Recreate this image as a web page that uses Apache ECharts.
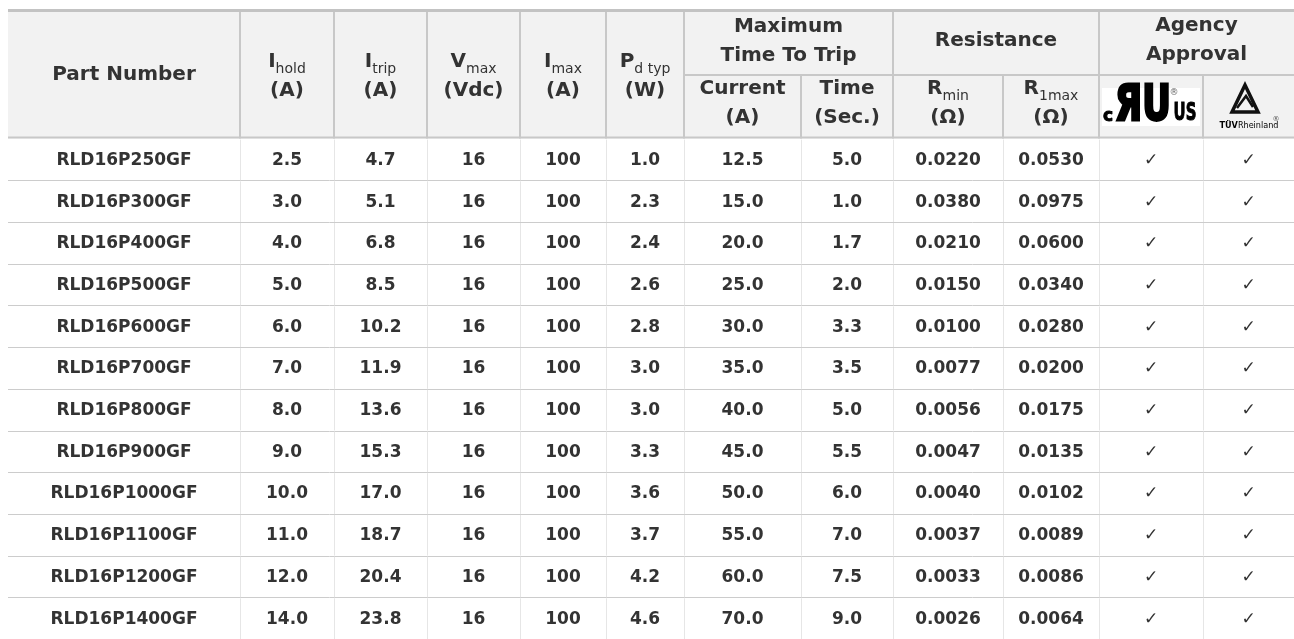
<!DOCTYPE html>
<html>
<head>
<meta charset="utf-8">
<script src="https://cdn.jsdelivr.net/npm/echarts@6/dist/echarts.min.js"></script>
<style>
html,body{margin:0;padding:0;background:#fff;}
#chart{width:1294px;height:639px;}
</style>
</head>
<body>
<div id="chart"></div>
<script>
// ---------- data ----------
const partNumbers = ['RLD16P250GF','RLD16P300GF','RLD16P400GF','RLD16P500GF','RLD16P600GF','RLD16P700GF',
  'RLD16P800GF','RLD16P900GF','RLD16P1000GF','RLD16P1100GF','RLD16P1200GF','RLD16P1400GF'];
const iHold       = [2.5, 3.0, 4.0, 5.0, 6.0, 7.0, 8.0, 9.0, 10.0, 11.0, 12.0, 14.0];
const iTrip       = [4.7, 5.1, 6.8, 8.5, 10.2, 11.9, 13.6, 15.3, 17.0, 18.7, 20.4, 23.8];
const vMax        = [16, 16, 16, 16, 16, 16, 16, 16, 16, 16, 16, 16];
const iMax        = [100, 100, 100, 100, 100, 100, 100, 100, 100, 100, 100, 100];
const pdTyp       = [1.0, 2.3, 2.4, 2.6, 2.8, 3.0, 3.0, 3.3, 3.6, 3.7, 4.2, 4.6];
const tripCurrent = [12.5, 15.0, 20.0, 25.0, 30.0, 35.0, 40.0, 45.0, 50.0, 55.0, 60.0, 70.0];
const tripTime    = [5.0, 1.0, 1.7, 2.0, 3.3, 3.5, 5.0, 5.5, 6.0, 7.0, 7.5, 9.0];
const rMin        = [0.0220, 0.0380, 0.0210, 0.0150, 0.0100, 0.0077, 0.0056, 0.0047, 0.0040, 0.0037, 0.0033, 0.0026];
const r1Max       = [0.0530, 0.0975, 0.0600, 0.0340, 0.0280, 0.0200, 0.0175, 0.0135, 0.0102, 0.0089, 0.0086, 0.0064];
const ulApproved  = [true, true, true, true, true, true, true, true, true, true, true, true];
const tuvApproved = [true, true, true, true, true, true, true, true, true, true, true, true];

const headerTexts = [
  '{b|Part Number}',
  '{b|I}{s|hold}\n{b|(A)}',
  '{b|I}{s|trip}\n{b|(A)}',
  '{b|V}{s|max}\n{b|(Vdc)}',
  '{b|I}{s|max}\n{b|(A)}',
  '{b|P}{s|d typ}\n{b|(W)}',
  '{b|Maximum}\n{b|Time To Trip}',
  '{b|Current}\n{b|(A)}',
  '{b|Time}\n{b|(Sec.)}',
  '{b|Resistance}',
  '{b|R}{s|min}\n{b|(Ω)}',
  '{b|R}{s|1max}\n{b|(Ω)}',
  '{b|Agency}\n{b|Approval}',
  '',
  ''
];

// ---------- layout / style ----------
const columns = [partNumbers, iHold, iTrip, vMax, iMax, pdTyp, tripCurrent, tripTime, rMin, r1Max, ulApproved, tuvApproved];
const formats = ['s', 1, 1, 0, 0, 1, 1, 1, 4, 4, 'check', 'check'];
const colEdges = [8, 240, 334, 427, 520, 606, 684, 801, 893, 1003, 1099, 1203, 1294];
const W = 1294, H = 639;
const HDR_TOP = 12, HDR_MID = 75, HDR_BOT = 138.6, ROW_H = 42.14;
const TXT = '#333333';
const FONT = 'DejaVu Sans';
// header cell layout: [colStart, colEnd, y0, y1, textCenterY]
const headerLayout = [
  [0,1,HDR_TOP,HDR_BOT,75],[1,2,HDR_TOP,HDR_BOT,76],[2,3,HDR_TOP,HDR_BOT,76],[3,4,HDR_TOP,HDR_BOT,76],
  [4,5,HDR_TOP,HDR_BOT,76],[5,6,HDR_TOP,HDR_BOT,76],[6,8,HDR_TOP,HDR_MID,41],[6,7,HDR_MID,HDR_BOT,103],
  [7,8,HDR_MID,HDR_BOT,103],[8,10,HDR_TOP,HDR_MID,41],[8,9,HDR_MID,HDR_BOT,103],[9,10,HDR_MID,HDR_BOT,103],
  [10,12,HDR_TOP,HDR_MID,40],[10,11,HDR_MID,HDR_BOT,103],[11,12,HDR_MID,HDR_BOT,103]
];

const rich = {
  b: {fontSize: 20, fontWeight: 'bold', fontFamily: FONT, color: TXT, lineHeight: 29, verticalAlign: 'middle'},
  s: {fontSize: 14, fontWeight: 'normal', fontFamily: FONT, color: TXT, lineHeight: 28, verticalAlign: 'bottom'}
};

function fmt(v, f) {
  if (f === 's') return v;
  if (f === 'check') return v ? '✓' : '';
  return Number(v).toFixed(f);
}

// ---------- header graphics ----------
const graphics = [];
graphics.push({type: 'rect', shape: {x: colEdges[0], y: HDR_TOP, width: W - colEdges[0], height: HDR_BOT - HDR_TOP}, style: {fill: '#f2f2f2'}, z: 1});
headerLayout.forEach((L, i) => {
  const x0 = colEdges[L[0]], x1 = colEdges[L[1]];
  if (x1 < W) {
    graphics.push({type: 'line', shape: {x1: x1, y1: L[2], x2: x1, y2: L[3]}, style: {stroke: '#c8c8c8', lineWidth: 2}, z: 3});
  }
  if (L[2] === HDR_MID) {
    graphics.push({type: 'line', shape: {x1: x0, y1: HDR_MID, x2: x1, y2: HDR_MID}, style: {stroke: '#c8c8c8', lineWidth: 2}, z: 3});
  }
  if (headerTexts[i]) {
    graphics.push({type: 'text', x: (x0 + x1) / 2, y: L[4], z: 4,
      style: {text: headerTexts[i], rich: rich, align: 'center', verticalAlign: 'middle', fill: TXT}});
  }
});
graphics.push({type: 'line', shape: {x1: colEdges[0], y1: 10.5, x2: W, y2: 10.5}, style: {stroke: '#c3c3c3', lineWidth: 3}, z: 3});
graphics.push({type: 'line', shape: {x1: colEdges[0], y1: 137.5, x2: W, y2: 137.5}, style: {stroke: '#c8c8c8', lineWidth: 2}, z: 3});

// UL logo
graphics.push(
  {type: 'rect', z: 6, shape: {x: 1102, y: 88, width: 98, height: 38}, style: {fill: '#ffffff'}},
  {type: 'text', z: 7, x: 1108, y: 117, style: {text: 'c', font: 'bold 17px "DejaVu Sans"', fill: '#000', stroke: '#000', lineWidth: 1, align: 'center', verticalAlign: 'middle'}},
  {type: 'text', z: 7, x: 1143, y: 107, scaleX: 0.72, style: {text: 'ЯU', font: '900 49px "DejaVu Sans"', fill: '#000', stroke: '#000', lineWidth: 3, align: 'center', verticalAlign: 'middle'}},
  {type: 'text', z: 7, x: 1174, y: 93, style: {text: '®', font: '9px "DejaVu Sans"', fill: '#666', align: 'center', verticalAlign: 'middle'}},
  {type: 'text', z: 7, x: 1185, y: 114, scaleX: 0.62, style: {text: 'US', font: 'bold 24px "DejaVu Sans"', fill: '#000', stroke: '#000', lineWidth: 1, align: 'center', verticalAlign: 'middle'}},
  // TUV logo
  {type: 'polygon', z: 7, shape: {points: [[1245, 85], [1232, 112], [1258, 112]]}, style: {fill: 'none', stroke: '#111', lineWidth: 3.5, lineJoin: 'miter'}},
  {type: 'polyline', z: 7, shape: {points: [[1237, 108], [1246, 96], [1253, 107]]}, style: {fill: 'none', stroke: '#111', lineWidth: 2.5}},
  {type: 'text', z: 7, x: 1249, y: 126, style: {text: '{a|TÜV}{b|Rheinland}', rich: {a: {font: 'bold 9px "DejaVu Sans Condensed", "DejaVu Sans"', color: '#222'}, b: {font: '9px "DejaVu Sans Condensed", "DejaVu Sans"', color: '#222'}}, align: 'center', verticalAlign: 'middle'}},
  {type: 'text', z: 7, x: 1276, y: 119, style: {text: '®', font: '7px "DejaVu Sans"', fill: '#555', align: 'center', verticalAlign: 'middle'}}
);

// ---------- chart ----------
const chart = echarts.init(document.getElementById('chart'), null, {renderer: 'canvas'});
chart.setOption({
  animation: false,
  backgroundColor: '#ffffff',
  grid: [{left: 0, top: HDR_BOT, width: W, height: ROW_H * partNumbers.length, containLabel: false}],
  xAxis: [{type: 'value', min: 0, max: W, show: false}],
  yAxis: [{type: 'category', data: partNumbers, inverse: true, show: false}],
  graphic: graphics,
  series: [{
    type: 'custom',
    coordinateSystem: 'cartesian2d',
    clip: false,
    encode: {x: 0, y: 1},
    data: partNumbers.map(p => [0, p]),
    renderItem: function (params, api) {
      const idx = params.dataIndex;
      const band = api.size([0, 1])[1];
      const cy = api.coord([0, idx])[1];
      const top = cy - band / 2, bottom = cy + band / 2;
      const X = v => api.coord([v, idx])[0];
      const children = [];
      const yb = Math.round(bottom) + 0.5;
      children.push({type: 'line', shape: {x1: X(colEdges[0]), y1: yb, x2: X(W), y2: yb}, style: {stroke: '#cccccc', lineWidth: 1}});
      for (let k = 1; k < colEdges.length - 1; k++) {
        const xv = Math.round(X(colEdges[k])) + 0.5;
        children.push({type: 'line', shape: {x1: xv, y1: top + 1, x2: xv, y2: bottom}, style: {stroke: '#e6e6e6', lineWidth: 1}});
      }
      columns.forEach((col, c) => {
        const check = formats[c] === 'check';
        children.push({type: 'text', x: X((colEdges[c] + colEdges[c + 1]) / 2), y: cy + 1,
          style: {text: fmt(col[idx], formats[c]), fill: TXT,
            font: check ? '17px "DejaVu Sans"' : 'bold 17px "DejaVu Sans"',
            align: 'center', verticalAlign: 'middle'}});
      });
      return {type: 'group', children: children};
    }
  }]
});
</script>
</body>
</html>
